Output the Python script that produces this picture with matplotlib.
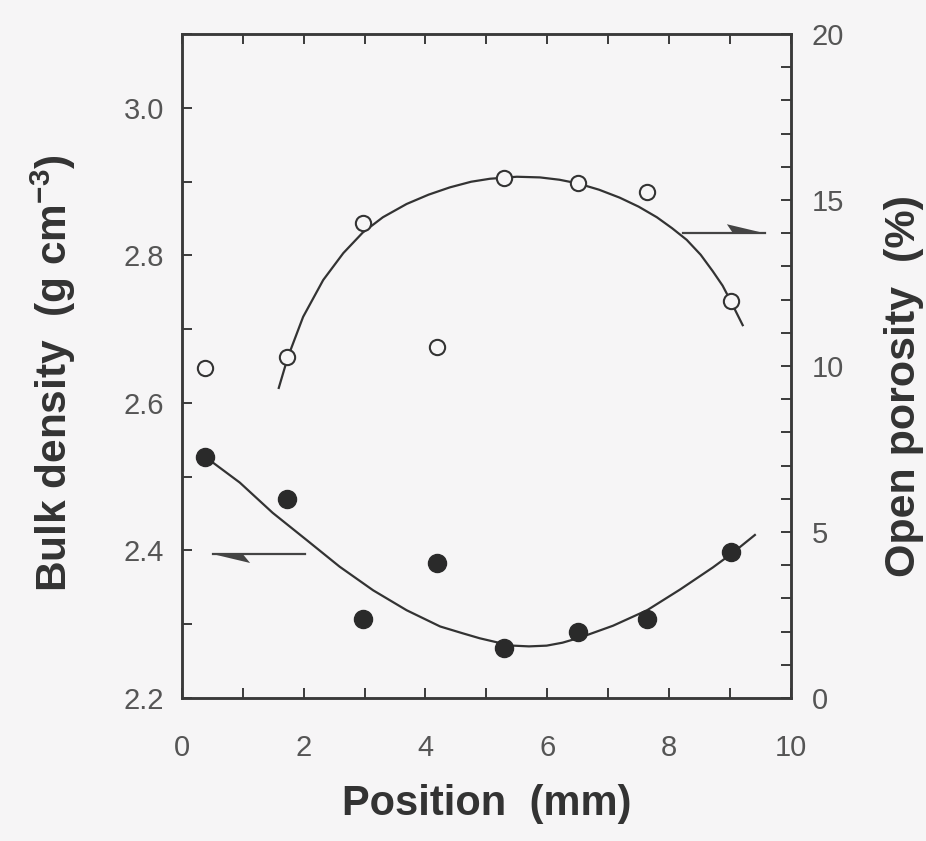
import matplotlib
matplotlib.use("Agg")
import matplotlib.pyplot as plt
from matplotlib.patches import Polygon
from matplotlib.ticker import MultipleLocator

plt.rcParams['font.family'] = ['Liberation Sans', 'DejaVu Sans']
plt.rcParams['mathtext.fontset'] = 'custom'
plt.rcParams['mathtext.rm'] = 'Liberation Sans'
plt.rcParams['mathtext.bf'] = 'Liberation Sans:bold'

# ---- data ----
position = [0.38, 1.73, 2.97, 4.19, 5.29, 6.51, 7.63, 9.01]
density = [2.527, 2.470, 2.307, 2.383, 2.268, 2.290, 2.307, 2.398]
porosity = [9.94, 10.27, 14.31, 10.57, 15.66, 15.51, 15.24, 11.95]

density_fit_x = [0.38, 0.95, 1.49, 2.05, 2.59, 3.14, 3.69, 4.24, 4.60, 4.89, 5.20, 5.44,
                 5.70, 5.99, 6.25, 6.54, 7.08, 7.64, 8.18, 8.72, 9.05, 9.41]
density_fit_y = [2.527, 2.492, 2.451, 2.414, 2.378, 2.346, 2.319, 2.297, 2.288, 2.281, 2.275, 2.271,
                 2.270, 2.271, 2.275, 2.282, 2.298, 2.319, 2.347, 2.377, 2.397, 2.421]

porosity_fit_x = [1.59, 1.74, 1.99, 2.32, 2.65, 2.97, 3.30, 3.69, 4.05, 4.40, 4.75, 5.06,
                  5.50, 5.88, 6.20, 6.50, 6.85, 7.19, 7.50, 7.80, 8.05, 8.29, 8.52,
                  8.72, 8.88, 9.00, 9.21]
porosity_fit_y = [9.34, 10.27, 11.48, 12.59, 13.40, 14.02, 14.48, 14.88, 15.16, 15.38, 15.55, 15.64,
                  15.70, 15.68, 15.61, 15.50, 15.31, 15.07, 14.80, 14.48, 14.15, 13.80, 13.35,
                  12.85, 12.42, 12.00, 11.23]

x_ticks = [0, 2, 4, 6, 8, 10]
left_ticks = [2.2, 2.4, 2.6, 2.8, 3.0]
right_ticks = [0, 5, 10, 15, 20]

# ---- style ----
BG = '#f6f5f6'
AX = '#3a3a3a'
TICKC = '#555555'
LABC = '#333333'

fig = plt.figure(figsize=(9.26, 8.41), dpi=100, facecolor=BG)
ax = fig.add_axes([0.1965, 0.170, 0.6575, 0.7896])
ax.set_facecolor(BG)
ax2 = ax.twinx()

ax.set_xlim(0, 10)
ax.set_ylim(2.2, 3.1)
ax2.set_ylim(0, 20)

# curves and points
ax.plot(density_fit_x, density_fit_y, color='#333333', lw=1.6, zorder=2,
        solid_joinstyle='round')
ax.plot(position, density, 'o', ms=13, color='#2a2a2a', mec='#2a2a2a', zorder=3)
ax2.plot(porosity_fit_x, porosity_fit_y, color='#333333', lw=1.6, zorder=2,
         solid_joinstyle='round')
ax2.plot(position, porosity, 'o', ms=11, mfc=BG, mec='#333333', mew=1.5, zorder=3)

# arrows (harpoon style)
ax.plot([0.51, 2.02], [2.395, 2.395], color='#444444', lw=1.6)
ax.add_patch(Polygon([[0.51, 2.395], [1.12, 2.383], [1.0, 2.395]], closed=True,
                     color='#444444', lw=0))
ax2.plot([8.23, 9.57], [14.0, 14.0], color='#444444', lw=1.6)
ax2.add_patch(Polygon([[9.57, 14.0], [8.95, 14.27], [9.05, 14.0]], closed=True,
                      color='#444444', lw=0))

# spines
for a in (ax, ax2):
    for s in a.spines.values():
        s.set_color(AX)
        s.set_linewidth(1.8)

ax.set_xticks(x_ticks)
ax.xaxis.set_minor_locator(MultipleLocator(1))
ax.set_yticks(left_ticks)
ax.yaxis.set_minor_locator(MultipleLocator(0.1))
ax.set_yticklabels([f"{v:.1f}" for v in left_ticks])
ax2.set_yticks(right_ticks)
ax2.yaxis.set_minor_locator(MultipleLocator(1))

ax.tick_params(axis='x', which='both', direction='in', length=7, width=1.4,
               color=AX, top=True, labelsize=21, labelcolor=TICKC, pad=26)
ax.tick_params(axis='y', which='both', direction='in', length=7, width=1.4,
               color=AX, right=False, labelsize=21, labelcolor=TICKC, pad=13)
ax2.tick_params(axis='y', which='both', direction='in', length=7, width=1.4,
                color=AX, labelsize=21, labelcolor=TICKC, pad=15)

ax.set_xlabel('Position  (mm)', fontsize=30, fontweight='bold', color=LABC, labelpad=16)
ax.set_ylabel(r'Bulk density  (g cm$^{\mathbf{-3}}$)', fontsize=30.5, fontweight='bold',
              color=LABC)
ax.yaxis.set_label_coords(-0.170, 0.49)
ax2.set_ylabel('Open porosity  (%)', fontsize=31, fontweight='bold', color=LABC,
               rotation=90)
ax2.yaxis.set_label_coords(1.153, 0.47)

fig.savefig('out.png', dpi=100, facecolor=BG)
